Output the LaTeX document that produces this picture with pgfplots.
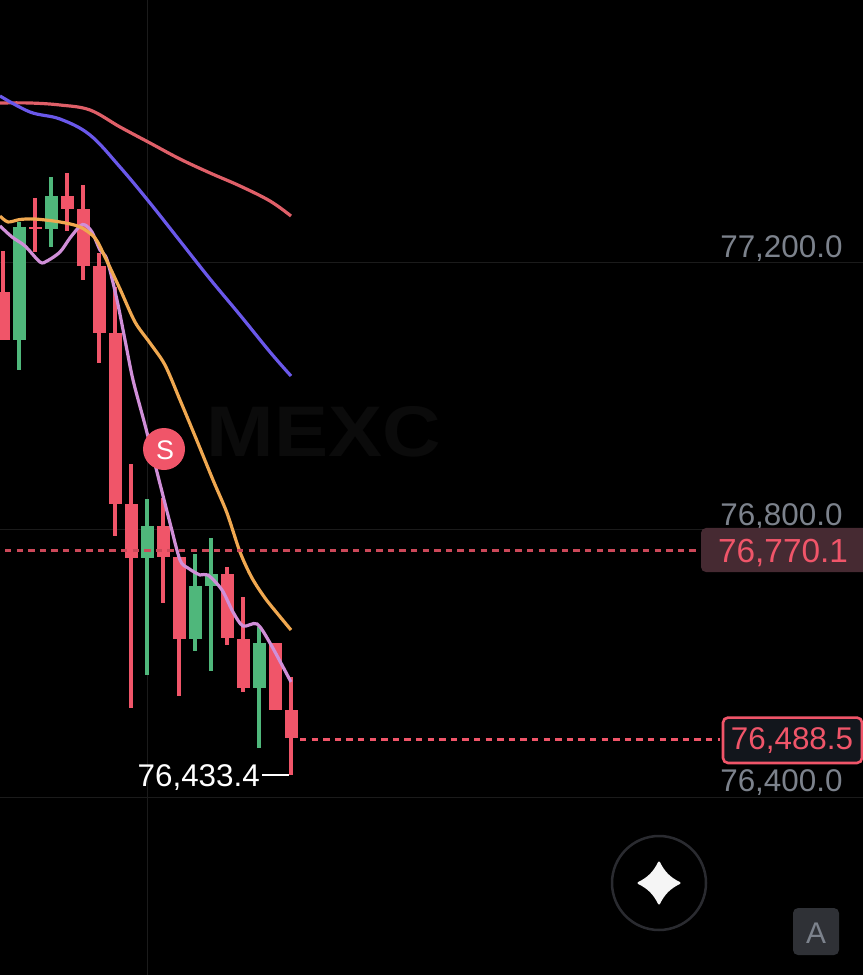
\documentclass[border=0pt]{standalone}
\usepackage{pgfplots}
\pgfplotsset{compat=1.18}
\usepackage{fontspec}
\setmainfont{Liberation Sans}
\definecolor{cr}{HTML}{F05569}
\definecolor{cg}{HTML}{4FB77B}
\definecolor{lred}{HTML}{DF5F68}
\definecolor{lblue}{HTML}{6A58EA}
\definecolor{lorange}{HTML}{F0A850}
\definecolor{lpink}{HTML}{D08FD8}
\definecolor{gridc}{HTML}{1B1B1B}
\definecolor{axt}{HTML}{7C828C}
\newcommand\fs[1]{\fontsize{#1}{#1}\selectfont}
\newcommand\candle[6]{%
  \addplot[#6,line width=3.2bp,line cap=butt,forget plot] coordinates {(#1,#2) (#1,#5)};
  \addplot[#6,line width=13bp,line cap=butt,forget plot] coordinates {(#1,#3) (#1,#4)};
}
\begin{document}
\begin{tikzpicture}
\fill[black] (0,0) rectangle (863bp,975bp);
\useasboundingbox (0,0) rectangle (863bp,975bp);
\begin{axis}[
  at={(0,0)},anchor=south west,scale only axis,
  width=863bp,height=975bp,
  xmin=0,xmax=863,ymin=76133.4,ymax=77593.9,
  axis line style={draw=none},
  xtick={147},ytick={76400,76800,77200},
  xticklabel=\empty,yticklabel=\empty,
  major tick length=0pt,
  grid=major,grid style={gridc,line width=1bp},
  clip=false,
]
% watermark
\node[text=white!4.5!black,xscale=1.13] at (axis cs:324,76946.8) {\fs{72}\bfseries MEXC};
% candles: x, high, open-top, close-bottom, low
\candle{3}{77217.9}{77156.5}{77084.6}{77084.6}{cr}
\candle{19}{77261.4}{77253.9}{77084.6}{77039.6}{cg}
\candle{35}{77297.3}{77253.9}{77250.9}{77216.4}{cr}
\candle{51}{77328.8}{77300.3}{77250.9}{77223.9}{cg}
\candle{67}{77334.8}{77300.3}{77280.8}{77247.9}{cr}
\candle{83}{77316.8}{77280.8}{77195.4}{77174.5}{cr}
\candle{99}{77214.9}{77195.4}{77095.1}{77050.1}{cr}
\candle{115}{77164.0}{77095.1}{76838.9}{76791.0}{cr}
\candle{131}{76898.8}{76838.9}{76758.0}{76533.3}{cr}
\candle{147}{76846.4}{76806.0}{76758.0}{76582.8}{cg}
\candle{163}{76848.0}{76806.0}{76759.5}{76690.6}{cr}
\candle{179}{76759.5}{76759.5}{76636.7}{76551.3}{cr}
\candle{195}{76764.0}{76716.1}{76636.7}{76618.7}{cg}
\candle{211}{76788.0}{76734.0}{76716.1}{76588.7}{cg}
\candle{227}{76744.5}{76734.0}{76638.2}{76627.7}{cr}
\candle{243}{76699.6}{76636.7}{76563.3}{76557.3}{cr}
\candle{259}{76654.7}{76630.7}{76563.3}{76473.4}{cg}
\candle{275}{76630.7}{76630.7}{76530.3}{76530.3}{cr}
\candle{291}{76579.8}{76530.3}{76488.5}{76433.4}{cr}
% red MA
\addplot[lred,line width=3.2bp,smooth,tension=0.6] coordinates {
(0,77439.6)(30,77439.6)(60,77436.6)(90,77429.1)(120,77403.7)(150,77379.7)(180,77355.7)(210,77334.8)(240,77315.3)(270,77292.8)(291,77270.3)};
% blue MA
\addplot[lblue,line width=3.2bp,smooth,tension=0.6] coordinates {
(0,77450.1)(30,77426.1)(60,77415.6)(90,77391.7)(120,77343.7)(150,77289.8)(180,77232.9)(210,77176.0)(240,77122.0)(270,77066.6)(291,77030.7)};
% pink MA
\addplot[lpink,line width=3.2bp,smooth,tension=0.5] coordinates {
(0,77255.4)(12,77238.9)(25,77225.4)(40,77201.4)(47,77202.9)(60,77216.4)(70,77237.4)(80,77255.4)(85,77256.9)(92,77246.4)(100,77219.4)(107,77205.0)(117,77144.5)(125,77084.6)(133,77024.7)(145,76957.3)(159,76874.9)(170,76810.5)(180,76755.0)(188,76743.0)(200,76732.6)(208,76732.6)(222,76710.1)(233,76677.1)(243,76656.2)(257,76659.2)(270,76630.7)(291,76572.3)};
% orange MA
\addplot[lorange,line width=3.2bp,smooth,tension=0.5] coordinates {
(0,77270.3)(8,77261.4)(20,77265.1)(35,77265.8)(60,77261.4)(80,77253.9)(95,77237.4)(105,77208.9)(120,77161.0)(135,77111.6)(150,77080.1)(165,77047.1)(180,76994.7)(195,76940.8)(213,76874.9)(227,76825.4)(240,76767.0)(252,76728.1)(265,76698.1)(277,76675.6)(291,76650.2)};
% price lines
\addplot[cr!85!black,line width=3bp,dash pattern=on 6.3bp off 5.3bp] coordinates {(5,76769)(697,76769)};
\addplot[cr,line width=3bp,dash pattern=on 6.3bp off 5.3bp] coordinates {(300,76486.5)(720,76486.5)};
\addplot[white,line width=1.6bp] coordinates {(262,76433.4)(289,76433.4)};
% axis labels
\node[anchor=east,text=axt] at (axis cs:846,77220.9) {\fs{31.5}77,200.0};
\node[anchor=east,text=axt] at (axis cs:846,76819.4) {\fs{31.5}76,800.0};
\node[anchor=east,text=axt] at (axis cs:846,76421) {\fs{31.5}76,400.0};
% badges
\path[fill={rgb,255:red,70;green,42;blue,50},rounded corners=5bp] (axis cs:701,76737) rectangle (axis cs:870,76803);
\node[text=cr] at (axis cs:783,76765.6) {\fs{33.5}76,770.1};
\path[fill={rgb,255:red,18;green,22;blue,28},draw=cr,line width=2.6bp,rounded corners=5bp] (axis cs:723,76451) rectangle (axis cs:862,76519);
\node[text=cr] at (axis cs:792,76484) {\fs{31.5}76,488.5};
\node[anchor=east,text=white,inner sep=0pt] at (axis cs:260,76429) {\fs{31.5}76,433.4};
% signal
\path[fill=cr] (axis cs:164,76921.3) circle (21bp);
\node[text=white] at (axis cs:165,76919) {\fs{27}S};
% star button
\path[draw={rgb,255:red,42;green,43;blue,48},line width=2.5bp] (axis cs:659,76271.2) circle (47bp);
\path[fill=white!96!black,draw=white!96!black,line width=2bp,line join=round,shift={(axis cs:659,76271.2)},x=1bp,y=1bp]
  (0,20.5) .. controls (5,10.5) and (10.5,5) .. (20.5,0) .. controls (10.5,-5) and (5,-10.5) .. (0,-20.5) .. controls (-5,-10.5) and (-10.5,-5) .. (-20.5,0) .. controls (-10.5,5) and (-5,10.5) .. (0,20.5) -- cycle;
% A button
\path[fill={rgb,255:red,47;green,49;blue,54},rounded corners=5bp] (axis cs:793,76163.3) rectangle (axis cs:839,76233.7);
\node[text=axt] at (axis cs:816,76196) {\fs{30}A};
\end{axis}
\end{tikzpicture}
\end{document}
